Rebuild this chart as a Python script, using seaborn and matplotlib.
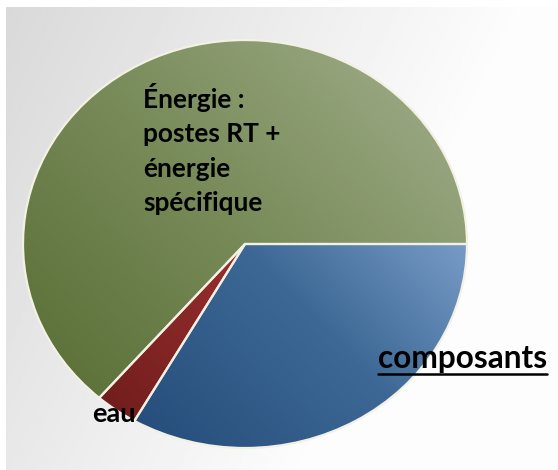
import numpy as np
import matplotlib
matplotlib.use("Agg")
import matplotlib.pyplot as plt
import seaborn as sns
from matplotlib.lines import Line2D

# data
labels = ["composants", "eau", "Énergie : postes RT + énergie spécifique"]
shares = [33.3, 3.1, 63.6]
# gradient colours per slice: (dark, mid, light)
slice_cols = [
    ["#234a78", "#3d6895", "#93b3de"],
    ["#6e1c1c", "#9a2f2f", "#c04848"],
    ["#5c7039", "#778a58", "#9aa882"],
]

W, H = 558, 470
sns.set_style("white")
plt.rcParams["font.family"] = ["Lato", "DejaVu Sans"]

fig = plt.figure(figsize=(W / 100, H / 100), dpi=100)
fig.patch.set_facecolor("white")

# grey gradient backdrop (white strip left and top)
bg = fig.add_axes([6 / W, 0, (W - 6) / W, (H - 7) / H])
gx, gy = np.meshgrid(np.linspace(0, 1, 300), np.linspace(0, 1, 250))
shade = np.clip(0.85 + 0.15 * gx + 0.06 * gy, 0, 0.99)
bg.imshow(shade, cmap="gray", vmin=0, vmax=1, aspect="auto", extent=(0, 1, 1, 0))
bg.set_axis_off()

# pie axes in pixel units; y stretched so the circle shows as an ellipse
rx, ry = 222, 204
k = rx / ry
cx, cy = 245, (H - 244) * k
ax = fig.add_axes([0, 0, 1, 1])
ax.patch.set_alpha(0)
wedges, _ = ax.pie(shares, startangle=0, counterclock=False, center=(cx, cy),
                   radius=rx, colors=[c[1] for c in slice_cols],
                   wedgeprops=dict(edgecolor="#f3f0e4", linewidth=1.6))
ax.set_aspect("auto")

# shading: light at top-right, dark toward bottom-left
ex = (cx - rx, cx + rx, cy - rx, cy + rx)
ux, uy = np.meshgrid(np.linspace(-1, 1, 200), np.linspace(1, -1, 200))
for w, cols in zip(wedges, slice_cols):
    t = np.clip((ux * 0.75 + uy * 0.65 + 1.1) / 2.2, 0, 1)
    cmap = sns.blend_palette(cols, as_cmap=True)
    im = ax.imshow(t, cmap=cmap, vmin=0, vmax=1, extent=ex, aspect="auto", zorder=1.5)
    im.set_clip_path(w)
    w.set_zorder(2)
    w.set_facecolor("none")
ax.set_xlim(0, W)
ax.set_ylim(0, H * k)
ax.set_axis_off()

# labels
fig.text(143 / W, 1 - 83 / H, "Énergie :\npostes RT +\nénergie\nspécifique",
         fontsize=18.9, fontweight="bold", color="black", va="top", ha="left",
         linespacing=1.52)
fig.text(92 / W, 1 - 422 / H, "eau", fontsize=19.5, fontweight="bold",
         color="black", va="baseline", ha="left")
comp = fig.text(378 / W, 1 - 368 / H, "composants", fontsize=22.8, fontweight="bold",
                color="black", va="baseline", ha="left")

fig.canvas.draw()
bb = comp.get_window_extent()
uy_px = 1 - 374 / H
fig.add_artist(Line2D([bb.x0 / W, bb.x1 / W], [uy_px, uy_px], color="black",
                      linewidth=1.8, transform=fig.transFigure))

fig.savefig("out.png", dpi=100)
